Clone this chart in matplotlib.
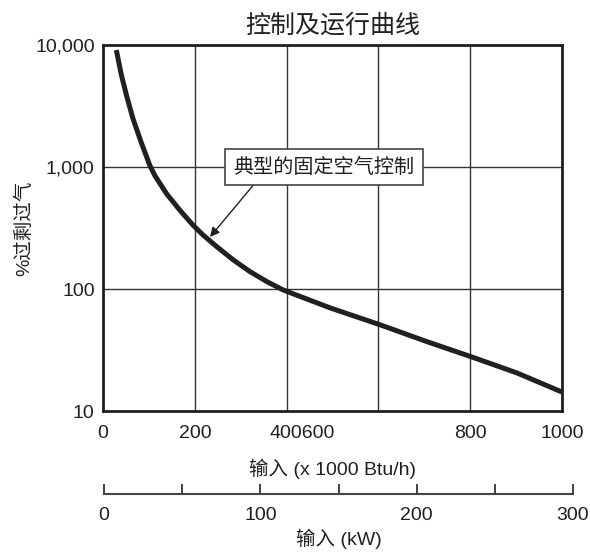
import matplotlib

matplotlib.use("Agg")

import matplotlib.pyplot as plt
from matplotlib.ticker import FixedLocator, NullLocator

plt.rcParams["font.family"] = ["Liberation Sans", "Noto Sans CJK SC", "DejaVu Sans"]

# ---------------------------------------------------------------------------
# Data
# ---------------------------------------------------------------------------
input_kbtu = [29, 40, 51, 65, 83, 102, 113, 139, 168, 197, 218, 248, 284, 320, 357, 393,
              495, 603, 706, 804, 902, 1000]
excess_air = [9100, 5680, 3890, 2510, 1600, 1030, 850, 600, 440, 331, 277, 222, 173, 139, 115, 98,
              70, 51, 37, 27.7, 20.5, 14.3]

x_ticks = [0, 200, 400, 600, 800, 1000]
x_labels = ["0", "200", "", "", "800", "1000"]
merged_label = "400600"
y_ticks = [10, 100, 1000, 10000]
y_labels = ["10", "100", "1,000", "10,000"]
kw_major = [0, 100, 200, 300]
kw_minor = [50, 150, 250]

title = "控制及运行曲线"
ylabel = "%过剩过气"
xlabel = "输入 (x 1000 Btu/h)"
kw_label = "输入 (kW)"
note = "典型的固定空气控制"
note_xy = (233, 267)
note_text_xy = (481, 1000)

DARK = "#231f20"
FS = 14
XPAD = 10

fig = plt.figure(figsize=(5.9, 5.54), dpi=100)
ax = fig.add_axes([0.1746, 0.2581, 0.778, 0.6606])

ax.plot(input_kbtu, excess_air, color=DARK, linewidth=3.6, solid_capstyle="butt",
        solid_joinstyle="round", zorder=3)

ax.set_yscale("log")
ax.set_xlim(0, 1000)
ax.set_ylim(10, 10000)
ax.xaxis.set_major_locator(FixedLocator(x_ticks))
ax.set_xticklabels(x_labels)
ax.yaxis.set_major_locator(FixedLocator(y_ticks))
ax.yaxis.set_minor_locator(NullLocator())
ax.set_yticklabels(y_labels)
ax.tick_params(axis="both", length=0, labelsize=FS, colors=DARK, pad=6)
ax.tick_params(axis="x", pad=XPAD)
ax.grid(True, color="#333333", linewidth=1.0)

# the 400 and 600 labels run together in the reference
ax.annotate(merged_label, xy=(433, 0), xycoords=ax.get_xaxis_transform(),
            xytext=(0, -XPAD), textcoords="offset points",
            ha="center", va="top", fontsize=FS, color=DARK)

for s in ax.spines.values():
    s.set_linewidth(2.0)
    s.set_color(DARK)

ax.set_title(title, fontsize=18, color=DARK, pad=9)
ax.set_ylabel(ylabel, fontsize=FS, color=DARK, labelpad=1)
ax.set_xlabel(xlabel, fontsize=FS, color=DARK, labelpad=12)

ax.annotate(
    note, xy=note_xy, xytext=note_text_xy, ha="center", va="center",
    fontsize=14.5, color=DARK,
    bbox=dict(boxstyle="square,pad=0.42", fc="white", ec="#444444", lw=1.2),
    arrowprops=dict(arrowstyle="-|>", color=DARK, lw=1.0, relpos=(0.15, 0.0),
                    mutation_scale=14, shrinkA=0, shrinkB=0),
    zorder=4,
)

# separate kW scale below the main axis (runs a little past 1000 kBtu/h)
kw = fig.add_axes([104 / 590, 1 - 494 / 554, (573 - 104) / 590, 0.001])
kw.set_xlim(0, 300)
kw.set_yticks([])
for side in ("top", "left", "right"):
    kw.spines[side].set_visible(False)
kw.spines["bottom"].set_linewidth(1.5)
kw.spines["bottom"].set_color("#444444")
kw.patch.set_visible(False)
kw.xaxis.set_major_locator(FixedLocator(kw_major))
kw.xaxis.set_minor_locator(FixedLocator(kw_minor))
kw.set_xticklabels([str(k) for k in kw_major])
kw.tick_params(axis="x", which="both", direction="in", length=7, width=1.2,
               labelsize=FS, colors=DARK, pad=9)
kw.set_xlabel(kw_label, fontsize=FS, color=DARK, labelpad=4)

fig.savefig("out.png", dpi=100)
